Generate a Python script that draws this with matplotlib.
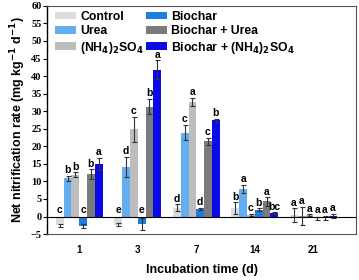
import numpy as np, matplotlib
matplotlib.use("Agg"); import matplotlib.pyplot as plt
from matplotlib.patches import Patch
plt.rcParams.update({"font.family":"Liberation Sans","font.weight":"bold","mathtext.default":"bf"})

days=["1","3","7","14","21"]
treatments=["Control","Urea","(NH$_4$)$_2$SO$_4$","Biochar","Biochar + Urea","Biochar + (NH$_4$)$_2$SO$_4$"]
colors=["#dcdcdc","#62aef0","#bdbdbd","#1f7de2","#7b7b7b","#0a0ae8"]
vals=[[-2.5,-2.3,2.5,2.4,0.3],       # control
      [10.9,14.1,23.9,7.8,0.2],      # urea
      [11.9,24.8,32.6,0.4,0.4],      # (NH4)2SO4
      [-2.6,-2.1,2.1,1.9,-0.5],      # biochar
      [12.1,31.3,21.5,4.3,-0.4],     # biochar + urea
      [15.0,41.8,27.4,0.9,0.1]]      # biochar + (NH4)2SO4
errs=[[0.4,0.4,1.0,1.6,2.0],
      [0.7,2.8,2.2,1.2,2.5],
      [0.7,3.5,1.2,0.3,0.2],
      [0.6,1.8,0.3,0.4,0.4],
      [1.3,2.2,1.0,1.2,0.5],
      [1.8,2.7,0.5,0.3,0.6]]
letters=[["c","e","d","b","a"],
         ["b","d","c","a","a"],
         ["b","c","a","c","a"],
         ["c","e","d","b","a"],
         ["b","b","c","a","a"],
         ["a","a","b","bc","a"]]

fig=plt.figure(figsize=(3.59,2.80),dpi=100)
ax=fig.add_axes([0.131,0.164,0.861,0.815])
x=np.arange(len(days)); w=0.133
for i in range(6):
    xs=x+(i-2.5)*w
    v=np.array(vals[i]); e=np.array(errs[i])
    ax.bar(xs,v,w,color=colors[i],yerr=e,error_kw=dict(ecolor="#333333",elinewidth=0.8,capsize=1.8,capthick=0.8),zorder=2)
    for xx,vv,ee,lt in zip(xs,v,e,letters[i]):
        top=max(vv+ee,0.3) if vv>=0 else 0.3
        ax.text(xx,top+0.2,lt,ha="center",va="bottom",fontsize=7.5,fontweight="bold")
ax.axhline(0,color="black",lw=0.8,zorder=3)
ax.set_xlim(-0.55,4.73); ax.set_ylim(-5,60)
ax.set_yticks(np.arange(-5,61,5))
ax.set_xticks(x); ax.set_xticklabels(days,fontsize=7,fontweight="bold")
for t in ax.get_yticklabels(): t.set_fontfamily("Liberation Serif"); t.set_fontsize(7.5); t.set_fontweight("bold")
ax.tick_params(axis="x",length=0,pad=8)
ax.tick_params(axis="y",length=3,width=0.8,pad=1)
for s in ["top","right","bottom"]: ax.spines[s].set_color("#555555")
ax.spines["left"].set_linewidth(1.0)
ax.set_ylabel("Net nitrification rate (mg kg$^{-1}$ d$^{-1}$)",fontsize=9,fontweight="bold",labelpad=2)
ax.set_xlabel("Incubation time (d)",fontsize=9,fontweight="bold",labelpad=6)
handles=[Patch(facecolor=c,label=l) for c,l in zip(colors,treatments)]
ax.legend(handles=handles,loc="upper left",ncol=2,frameon=False,fontsize=8.8,handlelength=1.7,handleheight=0.6,
          columnspacing=0.15,handletextpad=0.35,labelspacing=0.2,borderaxespad=0.0,bbox_to_anchor=(0.01,1.0))
fig.savefig("out.png",dpi=100)
